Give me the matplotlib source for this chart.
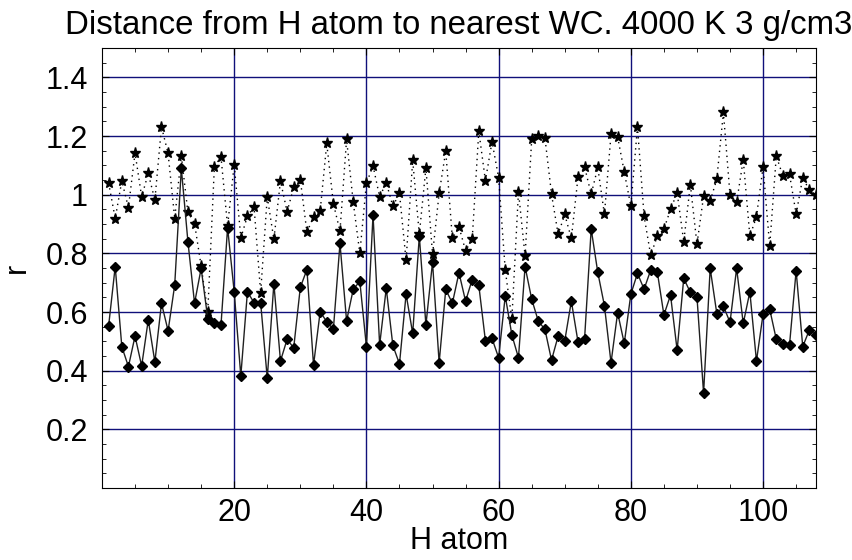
import numpy as np
import matplotlib
matplotlib.use("Agg")
import matplotlib.pyplot as plt
from matplotlib.ticker import MultipleLocator

# distance to nearest WC, diamonds (solid line)
r_near = [0.552, 0.755, 0.482, 0.414, 0.518, 0.416, 0.573, 0.430, 0.630, 0.536,
          0.692, 1.090, 0.840, 0.630, 0.749, 0.578, 0.561, 0.555, 0.888, 0.669,
          0.382, 0.669, 0.632, 0.632, 0.374, 0.697, 0.433, 0.507, 0.478, 0.684,
          0.745, 0.419, 0.601, 0.567, 0.541, 0.834, 0.570, 0.677, 0.705, 0.482,
          0.931, 0.488, 0.681, 0.486, 0.423, 0.661, 0.527, 0.859, 0.556, 0.770,
          0.427, 0.677, 0.630, 0.734, 0.637, 0.711, 0.691, 0.502, 0.510, 0.444,
          0.655, 0.522, 0.444, 0.755, 0.644, 0.569, 0.541, 0.436, 0.518, 0.502,
          0.637, 0.499, 0.509, 0.883, 0.735, 0.622, 0.427, 0.598, 0.493, 0.661,
          0.732, 0.678, 0.743, 0.737, 0.590, 0.658, 0.470, 0.715, 0.667, 0.652,
          0.323, 0.749, 0.595, 0.620, 0.565, 0.749, 0.561, 0.669, 0.433, 0.593,
          0.610, 0.507, 0.491, 0.488, 0.741, 0.482, 0.539, 0.522]

# second series, stars (dotted line)
r_second = [1.041, 0.919, 1.047, 0.956, 1.143, 0.993, 1.073, 0.982, 1.232, 1.141,
            0.919, 1.133, 0.940, 0.902, 0.757, 0.599, 1.095, 1.130, 0.893, 1.103,
            0.853, 0.927, 0.959, 0.666, 0.993, 0.848, 1.047, 0.942, 1.025, 1.052,
            0.872, 0.925, 0.944, 1.175, 0.970, 0.876, 1.189, 0.976, 0.800, 1.039,
            1.099, 0.993, 1.041, 0.961, 1.005, 0.776, 1.118, 0.865, 1.092, 0.797,
            1.005, 1.149, 0.851, 0.891, 0.809, 0.848, 1.217, 1.048, 1.181, 1.058,
            0.743, 0.576, 1.010, 0.791, 1.189, 1.200, 1.195, 1.002, 0.865, 0.933,
            0.851, 1.059, 1.095, 1.002, 1.093, 0.933, 1.206, 1.198, 1.078, 0.961,
            1.232, 0.927, 0.794, 0.859, 0.883, 0.950, 1.007, 0.840, 1.035, 0.831,
            0.995, 0.979, 1.053, 1.281, 0.999, 0.974, 1.120, 0.859, 0.925, 1.095,
            0.825, 1.132, 1.064, 1.070, 0.934, 1.058, 1.016, 0.999]

atoms = np.arange(1, len(r_near) + 1)

x_ticks = [20, 40, 60, 80, 100]
y_ticks = [0.2, 0.4, 0.6, 0.8, 1.0, 1.2, 1.4]
y_labels = ['0.2', '0.4', '0.6', '0.8', '1', '1.2', '1.4']

plt.rcParams['font.family'] = ['Liberation Sans', 'DejaVu Sans']

fig = plt.figure(figsize=(8.52, 5.6), dpi=100)
ax = fig.add_axes([0.1197, 0.1286, 0.838, 0.7854])

for v in x_ticks:
    ax.axvline(v, color='#10107a', lw=1, zorder=1)
for v in y_ticks:
    ax.axhline(v, color='#10107a', lw=1, zorder=1)

ax.plot(atoms, r_second, color='k', ls=(0, (1, 3)), lw=1, marker='*',
        ms=8, mec='k', mfc='k', zorder=3)
ax.plot(atoms, r_near, color='#202020', ls='-', lw=1, marker='D',
        ms=5, mec='k', mfc='k', zorder=3)

ax.set_xlim(0, 108)
ax.set_ylim(0, 1.5)
ax.set_xticks(x_ticks)
ax.set_yticks(y_ticks)
ax.set_yticklabels(y_labels)
ax.xaxis.set_minor_locator(MultipleLocator(5))
ax.yaxis.set_minor_locator(MultipleLocator(0.05))
ax.tick_params(which='both', direction='in', top=True, right=True,
               labelsize=22)
ax.tick_params(axis='x', pad=7)
ax.tick_params(axis='y', pad=10)
ax.tick_params(which='major', length=5)
ax.tick_params(which='minor', length=3)

ax.set_xlabel('H atom', fontsize=22, labelpad=-1)
ax.set_ylabel('r', fontsize=22, labelpad=10)
ax.set_title('Distance from H atom to nearest WC. 4000 K 3 g/cm3',
             fontsize=23.8, pad=10)

fig.savefig('out.png', dpi=100)
